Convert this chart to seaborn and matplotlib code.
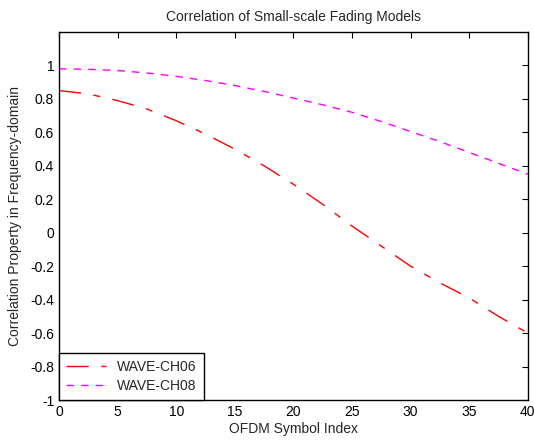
import numpy as np
import pandas as pd
import matplotlib
matplotlib.use('Agg')
import matplotlib.pyplot as plt
import seaborn as sns

# values
symbol_idx = [0, 2.5, 5, 7.5, 10, 12.5, 15, 17.5, 20, 22.5, 25, 27.5, 30, 32.5, 35, 37.5, 40]
ch06 = [0.85, 0.83, 0.79, 0.74, 0.67, 0.59, 0.50, 0.40, 0.29, 0.17, 0.04, -0.08, -0.20, -0.30, -0.39, -0.50, -0.60]
ch08 = [0.98, 0.977, 0.97, 0.955, 0.935, 0.91, 0.88, 0.845, 0.805, 0.765, 0.72, 0.665, 0.605, 0.545, 0.48, 0.415, 0.35]
labels = ['WAVE-CH06', 'WAVE-CH08']

df = pd.DataFrame({
    'x': symbol_idx * 2,
    'y': ch06 + ch08,
    'Channel': [labels[0]] * len(symbol_idx) + [labels[1]] * len(symbol_idx),
})

sns.set_style('white')
plt.rcParams['font.family'] = ['Liberation Sans', 'DejaVu Sans']
plt.rcParams['font.size'] = 10

fig = plt.figure(figsize=(5.34, 4.4), dpi=100)
ax = fig.add_axes([0.1105, 0.0909, 0.878, 0.8363])

palette = {labels[0]: '#ff0000', labels[1]: '#ff00ff'}
dashes = {labels[0]: (16, 9, 5, 9), labels[1]: (5.5, 5)}
sns.lineplot(data=df, x='x', y='y', hue='Channel', style='Channel',
             palette=palette, dashes=dashes, linewidth=1, ax=ax)

ax.set_xlim(0, 40)
ax.set_ylim(-1, 1.2)
ax.set_xticks(np.arange(0, 41, 5))
ax.set_yticks(np.round(np.arange(-1, 1.01, 0.2), 1))
ax.set_yticklabels(['-1', '-0.8', '-0.6', '-0.4', '-0.2', '0', '0.2', '0.4', '0.6', '0.8', '1'])
ax.tick_params(direction='in', top=True, right=True, length=4, width=0.8,
               labelsize=10, colors='black')
for spine in ax.spines.values():
    spine.set_visible(True)
    spine.set_color('black')
    spine.set_linewidth(1)

ax.set_title('Correlation of Small-scale Fading Models', fontsize=10, pad=8)
ax.set_xlabel('OFDM Symbol Index', fontsize=10, labelpad=2)
ax.set_ylabel('Correlation Property in Frequency-domain', fontsize=10, labelpad=6)

leg = ax.legend(loc='lower left', bbox_to_anchor=(0, 0), borderaxespad=0,
                fancybox=False, framealpha=1, edgecolor='black',
                handlelength=2.9, fontsize=10, borderpad=0.5, labelspacing=0.4)
leg.get_frame().set_linewidth(1)

fig.savefig('out.png', dpi=100)
